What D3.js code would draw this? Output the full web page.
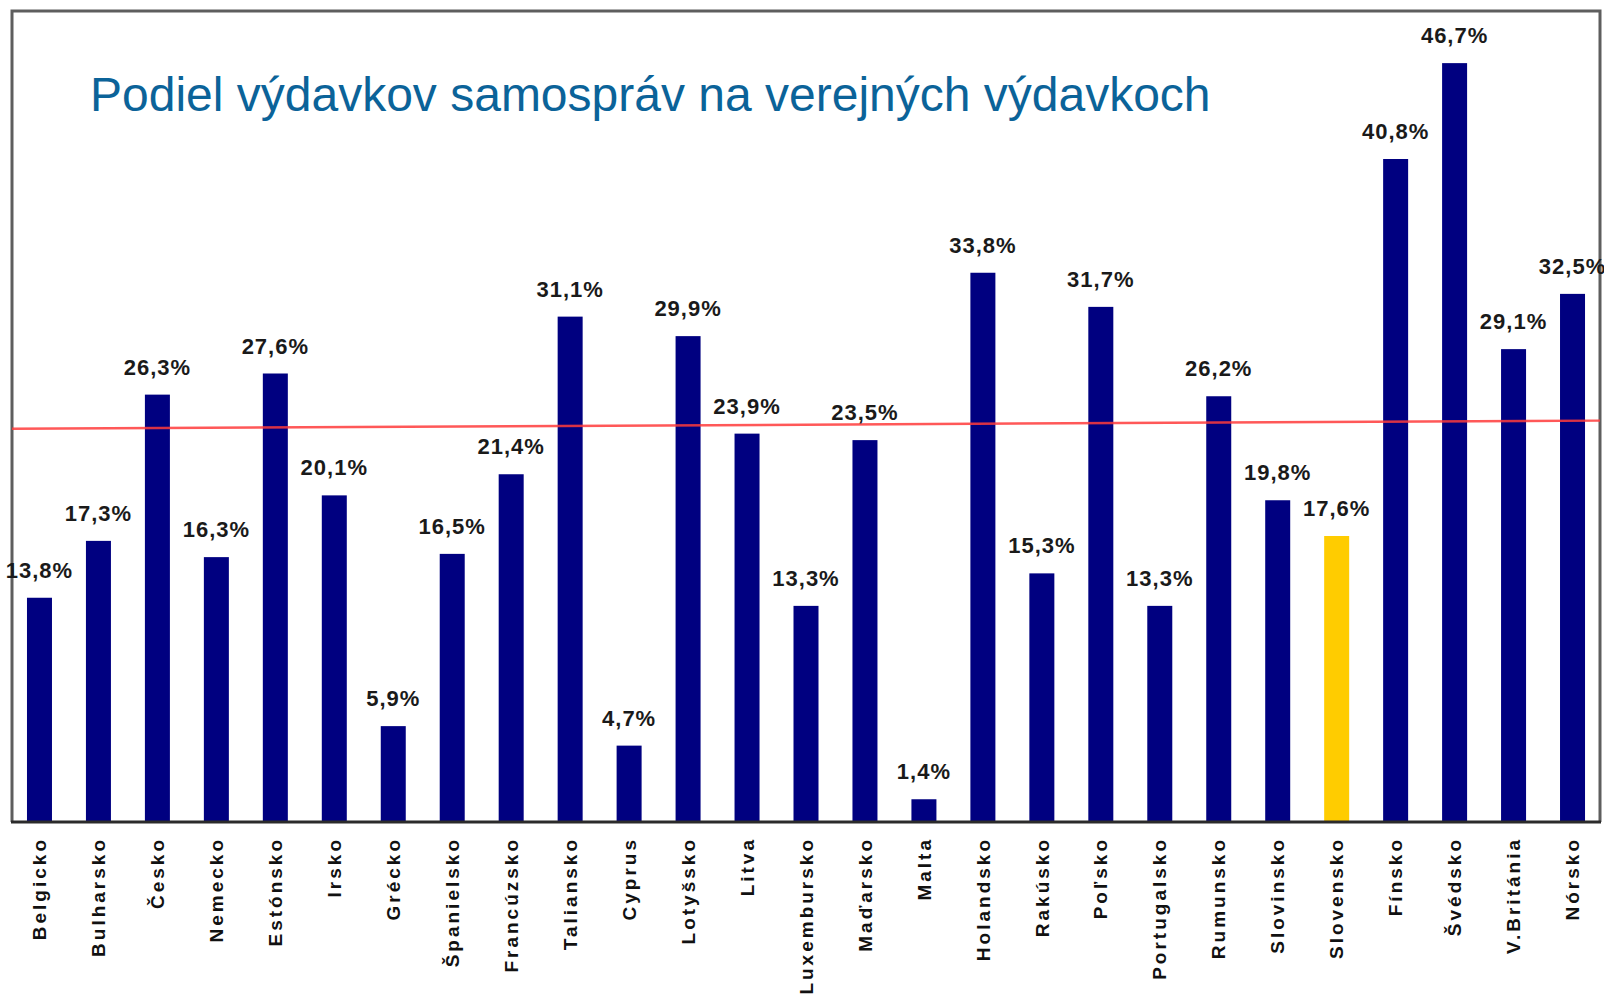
<!DOCTYPE html>
<html>
<head>
<meta charset="utf-8">
<script src="https://cdn.jsdelivr.net/npm/d3@7"></script>
<style>
	body { margin: 0; background: #fff; }
	svg { display: block; }
</style>
</head>
<body>
<div id="chart"></div>
<script>
const countries = ['Belgicko', 'Bulharsko', 'Česko', 'Nemecko', 'Estónsko', 'Irsko', 'Grécko', 'Španielsko',
	'Francúzsko', 'Taliansko', 'Cyprus', 'Lotyšsko', 'Litva', 'Luxembursko', 'Maďarsko', 'Malta', 'Holandsko',
	'Rakúsko', 'Poľsko', 'Portugalsko', 'Rumunsko', 'Slovinsko', 'Slovensko', 'Fínsko', 'Švédsko', 'V.Británia', 'Nórsko'];
const shares = [13.8, 17.3, 26.3, 16.3, 27.6, 20.1, 5.9, 16.5, 21.4, 31.1, 4.7, 29.9, 23.9, 13.3, 23.5, 1.4, 33.8,
	15.3, 31.7, 13.3, 26.2, 19.8, 17.6, 40.8, 46.7, 29.1, 32.5];
const highlight = ['Slovensko'];
// average line as drawn in the original (slightly tilted): value at left and right edge
const avgLine = [24.2, 24.7];
const title = 'Podiel výdavkov samospráv na verejných výdavkoch';

const width = 1604;
const height = 995;
const plot = { left: 12, right: 1600, top: 11, bottom: 822 };

const svg = d3.select('#chart').append('svg').attr('width', width).attr('height', height);

const xScale = d3.scaleBand().domain(countries).range([ plot.left, plot.right ]).paddingInner(0.576).paddingOuter(0.254);
const yScale = d3.scaleLinear().domain([ 0, 50 ]).range([ plot.bottom, plot.bottom - 16.25 * 50 ]);

const data = countries.map((c, i) => ({ name: c, value: shares[i] }));

// frame
svg.append('path')
	.attr('d', `M${plot.left},${plot.bottom} V${plot.top} H${plot.right} V${plot.bottom}`)
	.style('fill', 'none')
	.style('stroke', '#5e5e5e')
	.style('stroke-width', 3);

// title
svg.append('text')
	.attr('x', 90)
	.attr('y', 111)
	.style('font-family', '"Liberation Sans", Arial, sans-serif')
	.style('font-size', '48px')
	.style('fill', '#0b6399')
	.text(title);

// bars
svg.selectAll('rect.bar')
	.data(data)
	.enter()
	.append('rect')
	.attr('class', 'bar')
	.attr('x', (d) => xScale(d.name))
	.attr('width', xScale.bandwidth())
	.attr('y', (d) => yScale(d.value))
	.attr('height', (d) => yScale(0) - yScale(d.value))
	.style('fill', (d) => (highlight.includes(d.name) ? '#ffcc00' : '#000080'));

// average line
svg.append('line')
	.attr('x1', plot.left)
	.attr('x2', plot.right)
	.attr('y1', yScale(avgLine[0]))
	.attr('y2', yScale(avgLine[1]))
	.style('stroke', '#ff3b3b')
	.style('stroke-width', 2.5)
	.style('opacity', 0.85);

// value labels
svg.selectAll('text.val')
	.data(data)
	.enter()
	.append('text')
	.attr('class', 'val')
	.attr('x', (d) => xScale(d.name) + xScale.bandwidth() / 2)
	.attr('y', (d) => yScale(d.value) - 20)
	.attr('text-anchor', 'middle')
	.style('font-family', '"Liberation Sans", Arial, sans-serif')
	.style('font-weight', 'bold')
	.style('font-size', '22px')
	.style('letter-spacing', '1px')
	.style('fill', '#1a1a1a')
	.text((d) => `${d.value.toFixed(1).replace('.', ',')}%`);

// bottom axis
const xAxis = d3.axisBottom(xScale).tickSize(0).tickPadding(0);
const axisG = svg.append('g').attr('transform', `translate(0, ${plot.bottom})`).call(xAxis);
axisG.select('.domain').attr('d', `M${plot.left - 1},0H${plot.right + 1}`).style('stroke', '#2b2b2b').style('stroke-width', 3);
axisG.selectAll('text')
	.attr('transform', 'rotate(-90)')
	.attr('x', -15)
	.attr('y', 0)
	.attr('dy', '0.35em')
	.attr('text-anchor', 'end')
	.style('font-family', '"Liberation Sans", Arial, sans-serif')
	.style('font-weight', 'bold')
	.style('font-size', '19px')
	.style('letter-spacing', '3px')
	.style('fill', '#111');
</script>
</body>
</html>
